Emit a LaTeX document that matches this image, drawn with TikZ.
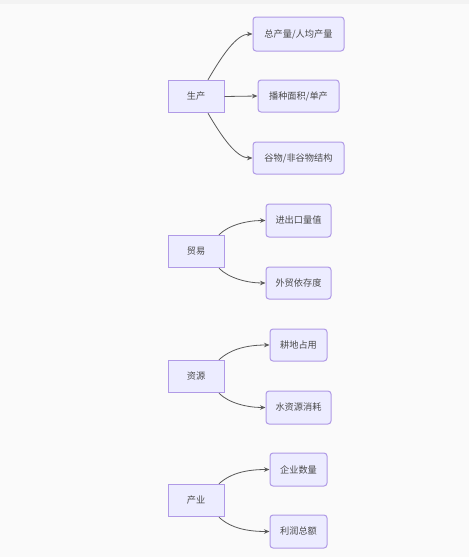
\documentclass[tikz,border=0pt]{standalone}
\usepackage{fontspec}
\setmainfont{Noto Sans CJK SC}
\usetikzlibrary{arrows.meta}
\definecolor{bgc}{HTML}{FAFAFA}
\definecolor{topc}{HTML}{F3F3F3}
\definecolor{nodefill}{HTML}{ECECFF}
\definecolor{nodeline}{HTML}{B09AE6}
\definecolor{txt}{HTML}{4A4A4A}
\definecolor{edgec}{HTML}{5A5A5A}
\tikzset{
  base/.style={draw=nodeline, fill=nodefill, line width=1pt, inner sep=0pt,
    font=\fontsize{9.2pt}{11pt}\selectfont, text=txt},
  parentbox/.style={base, minimum width=56pt, minimum height=32.5pt},
  childbox/.style={base, rounded corners=3pt, minimum height=32.5pt},
  conn/.style={draw=edgec, line width=0.8pt, -{Stealth[length=5.5pt,width=4.5pt]}}
}
\begin{document}
\begin{tikzpicture}[x=1pt,y=-1pt]
\useasboundingbox (0,0) rectangle (469,557);
\fill[bgc] (0,0) rectangle (469,557);
\fill[topc] (0,0) rectangle (469,4);

% group 1
\node[parentbox] (p1) at (196,96.5) {生产};
\node[childbox, minimum width=91pt, minimum height=34pt] (c11) at (298.5,34) {总产量/人均产量};
\node[childbox, minimum width=81pt, minimum height=32pt] (c12) at (298.5,96) {播种面积/单产};
\node[childbox, minimum width=91pt, minimum height=32pt] (c13) at (298.5,158) {谷物/非谷物结构};
\draw[conn] ([xshift=12pt]p1.north) .. controls +(14,-24) and +(-16,0) .. (c11.west);
\draw[conn] (p1.east) -- (c12.west);
\draw[conn] ([xshift=12pt]p1.south) .. controls +(14,24) and +(-16,0) .. (c13.west);

% group 2
\node[parentbox] (p2) at (196,251.5) {贸易};
\node[childbox, minimum width=65pt, minimum height=33pt] (c21) at (298.5,220.5) {进出口量值};
\node[childbox, minimum width=65pt, minimum height=32pt] (c22) at (298.5,283) {外贸依存度};
\draw[conn] ([xshift=23pt]p2.north) .. controls +(10,-10) and +(-18,0) .. (c21.west);
\draw[conn] ([xshift=23pt]p2.south) .. controls +(10,10) and +(-18,0) .. (c22.west);

% group 3
\node[parentbox] (p3) at (196,376.5) {资源};
\node[childbox, minimum width=57pt, minimum height=32pt] (c31) at (298.5,345) {耕地占用};
\node[childbox, minimum width=65pt, minimum height=33pt] (c32) at (298.5,407.5) {水资源消耗};
\draw[conn] ([xshift=23pt]p3.north) .. controls +(12,-11) and +(-22,0) .. (c31.west);
\draw[conn] ([xshift=23pt]p3.south) .. controls +(10,10) and +(-18,0) .. (c32.west);

% group 4
\node[parentbox] (p4) at (196,500.5) {产业};
\node[childbox, minimum width=57pt, minimum height=33pt] (c41) at (298.5,469.5) {企业数量};
\node[childbox, minimum width=57pt, minimum height=33pt] (c42) at (298.5,531.5) {利润总额};
\draw[conn] ([xshift=23pt]p4.north) .. controls +(12,-11) and +(-22,0) .. (c41.west);
\draw[conn] ([xshift=23pt]p4.south) .. controls +(12,11) and +(-22,0) .. (c42.west);
\end{tikzpicture}
\end{document}
